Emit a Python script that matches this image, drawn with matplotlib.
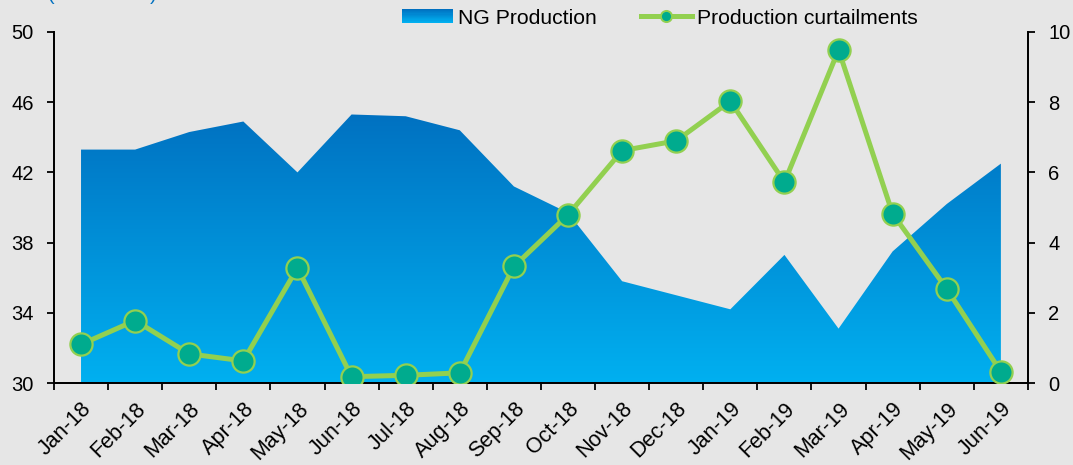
import numpy as np
import matplotlib

matplotlib.use("Agg")
import matplotlib.pyplot as plt
from matplotlib.colors import LinearSegmentedColormap
from matplotlib.legend_handler import HandlerBase
from matplotlib.lines import Line2D
from matplotlib.patches import Rectangle

months = ["Jan-18", "Feb-18", "Mar-18", "Apr-18", "May-18", "Jun-18", "Jul-18", "Aug-18", "Sep-18",
          "Oct-18", "Nov-18", "Dec-18", "Jan-19", "Feb-19", "Mar-19", "Apr-19", "May-19", "Jun-19"]
ng_production = [43.3, 43.3, 44.3, 44.9, 42.0, 45.3, 45.2, 44.4, 41.2,
                 39.7, 35.8, 35.0, 34.2, 37.3, 33.1, 37.5, 40.2, 42.5]
curtailments = [1.1, 1.78, 0.83, 0.63, 3.28, 0.18, 0.22, 0.29, 3.32,
                4.79, 6.62, 6.9, 8.03, 5.72, 9.49, 4.82, 2.68, 0.32]
left_ticks = [30, 34, 38, 42, 46, 50]
right_ticks = [0, 2, 4, 6, 8, 10]

BG = "#e6e6e6"
DARK_BLUE = "#0070c0"
LIGHT_BLUE = "#00b0f0"
LINE_GREEN = "#92d050"
MARKER_TEAL = "#00ab8e"

plt.rcParams["font.family"] = ["Liberation Sans", "DejaVu Sans"]
plt.rcParams["font.size"] = 14.5

cmap = LinearSegmentedColormap.from_list("ng", [LIGHT_BLUE, DARK_BLUE])

figure = plt.figure(figsize=(10.73, 4.65), dpi=100, facecolor=BG)
axis = figure.add_axes([0.0503, 0.1763, 0.9077, 0.7549], facecolor=BG)
axis2 = axis.twinx()

x = np.arange(len(months))

# gradient area clipped to the production polygon
fill = axis.fill_between(x, 30, ng_production, facecolor="none", edgecolor="none")
gradient = np.linspace(0, 1, 256).reshape(-1, 1)
image = axis.imshow(gradient, cmap=cmap, origin="lower", aspect="auto",
                    extent=[-0.5, 17.5, 30, 45.6], zorder=1)
image.set_clip_path(fill.get_paths()[0], transform=axis.transData)

axis.set_xlim(-0.5, 17.5)
axis.set_ylim(30, 50)
axis.set_yticks(left_ticks)

axis2.plot(x, curtailments, color=LINE_GREEN, linewidth=3.6, marker="o", markersize=16,
           markerfacecolor=MARKER_TEAL, markeredgecolor=LINE_GREEN, markeredgewidth=1.6,
           solid_joinstyle="round", zorder=3)
axis2.set_ylim(0, 10)
axis2.set_yticks(right_ticks)

axis.set_xticks(x)
axis.set_xticklabels(months, rotation=45, ha="right", va="top", rotation_mode="anchor", fontsize=15.5)
axis.set_xticks(np.arange(-0.5, 18.0, 1.0), minor=True)
axis.tick_params(axis="x", which="major", length=0, pad=11)
axis.tick_params(axis="x", which="minor", length=5, width=1.3, direction="out")
axis.tick_params(axis="y", length=5, width=1.3, pad=9.5, direction="out")
axis2.tick_params(axis="y", length=5, width=1.3, pad=9.5, direction="out")

for ax in (axis, axis2):
    ax.spines["top"].set_visible(False)
    for side in ("left", "right", "bottom"):
        ax.spines[side].set_linewidth(1.3)
        ax.spines[side].set_color("black")


class GradientHandler(HandlerBase):
    def create_artists(self, legend, orig_handle, xdescent, ydescent, width, height, fontsize, trans):
        artists = []
        steps = 12
        for i in range(steps):
            color = cmap(1 - i / (steps - 1))
            rect = Rectangle((-xdescent, -ydescent + height * (1 - (i + 1) / steps)), width, height / steps + 0.3,
                             facecolor=color, edgecolor="none", transform=trans)
            artists.append(rect)
        return artists


area_handle = Rectangle((0, 0), 1, 1)
line_handle = Line2D([], [], color=LINE_GREEN, linewidth=3.6, marker="o", markersize=8,
                     markerfacecolor=MARKER_TEAL, markeredgecolor=LINE_GREEN, markeredgewidth=1.4)
figure.legend([area_handle, line_handle], ["NG Production", "Production curtailments"],
              handler_map={Rectangle: GradientHandler()}, loc="center", bbox_to_anchor=(0.615, 0.961),
              ncol=2, frameon=False, handlelength=2.4, handletextpad=0.25, columnspacing=2.1,
              fontsize=15.2, borderpad=0, handleheight=0.65)

figure.text(0.0447, 1.0, "(bcm/month)", color=DARK_BLUE, fontsize=14, va="baseline", ha="left")

figure.savefig("out.png", dpi=100, facecolor=BG)
